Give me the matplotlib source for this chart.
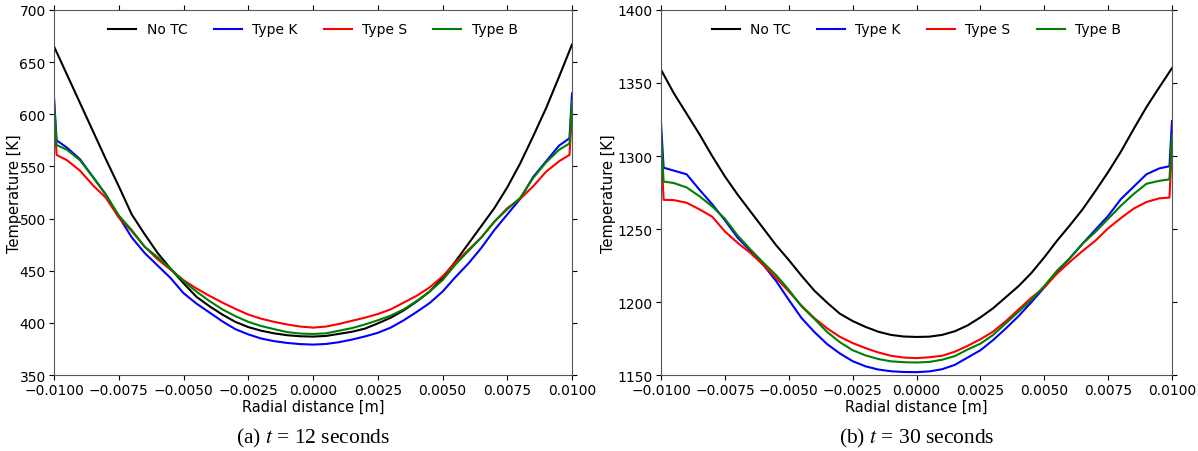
import numpy as np
import matplotlib.pyplot as plt

plt.rcParams['mathtext.fontset'] = 'stix'

# radial positions [m]; the TC curves carry an extra point next to each wall
x_no = [-0.010, -0.0095, -0.009, -0.0085, -0.008, -0.0075, -0.007, -0.0065, -0.006, -0.0055,
        -0.005, -0.0045, -0.004, -0.0035, -0.003, -0.0025, -0.002, -0.0015, -0.001, -0.0005,
        0.0, 0.0005, 0.001, 0.0015, 0.002, 0.0025, 0.003, 0.0035, 0.004, 0.0045,
        0.005, 0.0055, 0.006, 0.0065, 0.007, 0.0075, 0.008, 0.0085, 0.009, 0.0095, 0.010]
x_tc = x_no[:1] + [-0.0099] + x_no[1:-1] + [0.0099] + x_no[-1:]

# t = 12 s
no_12 = [665, 638, 611, 584, 557, 531, 504, 485, 467, 452,
         438, 425, 416, 408, 401, 396, 392.5, 390, 388.2, 387.2,
         386.9, 387.5, 389.5, 391.5, 394.5, 399.5, 405, 412, 420.5, 430,
         443, 459, 476, 493, 510, 530, 553, 579, 606, 636, 667]
k_12 = [616, 575, 568, 557, 540, 523, 502, 482, 467, 455, 443,
        428.5, 418.5, 410, 401.5, 394, 389, 385, 382.5, 380.8, 379.7,
        379.2, 379.8, 381.5, 384, 387, 390.5, 395.5, 402.5, 410.5, 419,
        430, 444, 457, 472, 489, 504, 519, 540, 555, 570, 577, 620]
s_12 = [603, 561, 556, 546, 532, 520, 501, 488, 473, 461, 451,
        441, 433, 426, 419.5, 413.5, 408, 404, 401, 398.5, 396.5,
        395.5, 396.5, 399, 402, 405, 408.5, 413, 419.5, 426, 434,
        444.6, 458, 470, 482, 497, 510, 519, 531, 545, 555, 561, 602]
b_12 = [612, 570.5, 566, 556, 540, 523, 503, 489, 473, 463, 452,
        440, 430, 421, 413, 406.5, 401, 397, 394, 391.2, 389.8,
        389.4, 390, 392.5, 395, 398.5, 402.5, 407, 413, 421, 430,
        441, 456, 469, 482, 497, 509, 520, 539, 554, 566, 572, 612]

# t = 30 s
no_30 = [1359, 1343, 1329, 1315, 1300, 1286, 1273.5, 1262, 1250.5, 1239,
         1228.8, 1218, 1207.8, 1199.6, 1192, 1187, 1183, 1179.7, 1177.5, 1176.4,
         1176.1, 1176.3, 1177.5, 1180, 1184, 1189.5, 1195.8, 1203.4, 1211, 1220,
         1230.6, 1242, 1252.5, 1263.5, 1276, 1289, 1303, 1318.5, 1333.5, 1347, 1360.2]
k_30 = [1322, 1292, 1290, 1287.5, 1277, 1267, 1256, 1244, 1235, 1225.5, 1214.5,
        1201.5, 1189, 1179.5, 1171.2, 1164.8, 1159.5, 1156, 1153.8, 1152.6, 1152.1,
        1152, 1152.5, 1154, 1157, 1162, 1167, 1174, 1182, 1190.5, 1200,
        1210, 1220.5, 1230, 1240, 1249.5, 1259, 1270.5, 1279, 1287.5, 1291.5, 1293, 1324]
s_30 = [1305, 1270, 1269.8, 1268, 1263.5, 1258.5, 1248.3, 1240.5, 1233.6, 1225.4, 1216.5,
        1207.3, 1197.5, 1189, 1182, 1176.2, 1171.9, 1168.5, 1165.5, 1163.2, 1162,
        1161.6, 1162.2, 1163.2, 1166, 1170, 1174.5, 1179.8, 1187, 1195, 1203,
        1210, 1219.5, 1227.5, 1235, 1242, 1250.5, 1257.5, 1264, 1268.5, 1271, 1271.5, 1306]
b_30 = [1315, 1282.5, 1281.5, 1278.5, 1272.5, 1265.5, 1257, 1245.5, 1236, 1227, 1218.5,
        1208.4, 1197, 1188.5, 1179.5, 1172.5, 1167, 1163.5, 1161, 1159.4, 1158.8,
        1158.6, 1159, 1160.5, 1163, 1167.5, 1171.5, 1177.5, 1185.5, 1193.5, 1201.5,
        1211, 1221.5, 1230, 1240, 1248, 1257, 1266, 1274, 1281, 1283, 1284, 1314]

panels = [
    (no_12, k_12, s_12, b_12, (350, 700), '(a) $t$ = 12 seconds'),
    (no_30, k_30, s_30, b_30, (1150, 1400), '(b) $t$ = 30 seconds'),
]
boxes = [[0.0451, 0.168, 0.4324, 0.8077], [0.5518, 0.168, 0.4265, 0.8077]]
ylab_x = [-0.062, -0.088]

fig = plt.figure(figsize=(11.98, 4.52), dpi=100)
for (no, k, s, b, ylim, cap), box, lx in zip(panels, boxes, ylab_x):
    ax = fig.add_axes(box)
    ax.plot(x_no, no, color='black', lw=1.5, label='No TC')
    ax.plot(x_tc, k, color='blue', lw=1.5, label='Type K')
    ax.plot(x_tc, s, color='red', lw=1.5, label='Type S')
    ax.plot(x_tc, b, color='green', lw=1.5, label='Type B')
    ax.set_xlim(-0.01, 0.01)
    ax.set_ylim(*ylim)
    ax.set_xticks(np.arange(-0.01, 0.01001, 0.0025))
    ax.tick_params(top=True, right=True, labelsize=10, pad=2.5)
    for sp in ax.spines.values():
        sp.set_color('#555555')
    ax.set_xlabel('Radial distance [m]', fontsize=10.5, labelpad=1)
    ax.set_ylabel('Temperature [K]', fontsize=10.5)
    ax.yaxis.set_label_coords(lx, 0.5)
    ax.legend(loc='upper center', ncol=4, frameon=False, fontsize=10,
              handlelength=2, columnspacing=1.9, handletextpad=0.75)
    fig.text(box[0] + box[2] / 2, 0.031, cap, ha='center', va='center',
             fontsize=15.5, family='Liberation Serif')

fig.savefig('out.png', dpi=100)
